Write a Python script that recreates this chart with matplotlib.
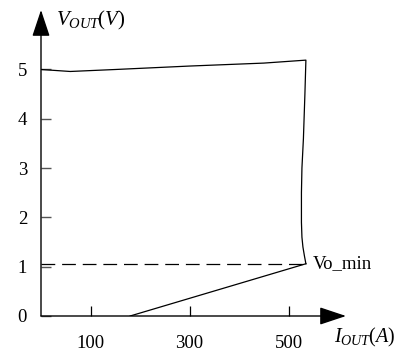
import matplotlib.pyplot as plt

plt.rcParams['font.family'] = 'Liberation Serif'
plt.rcParams['mathtext.fontset'] = 'custom'
plt.rcParams['mathtext.rm'] = 'Liberation Serif'
plt.rcParams['mathtext.it'] = 'Liberation Serif:italic'

# upper branch: top line then right edge down to Vo_min
curve_x = [0, 15, 59, 150, 300, 450, 535, 533, 530, 527, 526, 526, 527, 529, 532, 535]
curve_y = [5.0, 4.99, 4.96, 5.0, 5.07, 5.13, 5.19, 4.5, 3.6, 3.0, 2.5, 1.9, 1.6, 1.4, 1.22, 1.06]
# lower branch: from Vo_min back to zero voltage
low_x = [535, 180]
low_y = [1.06, 0]
vo_min = 1.06

xticks = [100, 300, 500]
yticks = [0, 1, 2, 3, 4, 5]

fig = plt.figure(figsize=(4.15, 3.62), dpi=100)
ax = fig.add_axes([41 / 415, 46 / 362, 305 / 415, 306 / 362])
ax.set_xlim(0, 616)
ax.set_ylim(0, 306 / 49.3)

ax.plot(curve_x, curve_y, color='black', lw=0.9)
ax.plot(low_x, low_y, color='black', lw=0.9)
ax.plot([0, curve_x[-1]], [vo_min, vo_min], color='black', lw=0.9, dashes=(11, 5.5))
ax.text(548, vo_min, 'Vo_min', fontsize=13.5, va='center', ha='left')

for s in ax.spines.values():
    s.set_visible(False)

# axes with arrow heads
arrow = dict(arrowstyle='-|>,head_length=0.75,head_width=0.25', color='black', lw=1,
             mutation_scale=22, shrinkA=0, shrinkB=0)
ax.annotate('', xy=(616, 0), xytext=(0, 0), arrowprops=arrow, annotation_clip=False)
ax.annotate('', xy=(0, 306 / 49.3), xytext=(0, 0), arrowprops=arrow, annotation_clip=False)

ax.set_xticks(xticks)
ax.set_xticklabels([str(v) for v in xticks])
ax.set_yticks(yticks)
ax.set_yticklabels([str(v) for v in yticks])
ax.tick_params(axis='x', direction='in', length=7, width=0.9, pad=14, labelsize=13.5)
ax.tick_params(axis='y', direction='in', length=7, width=1, pad=10, labelsize=13.5,
               color='#555555')

ax.text(30, 6.0, r'$V_{OUT}\mathrm{(}V\mathrm{)}$', fontsize=15, va='center', ha='left')
ax.text(592, -0.43, r'$I_{OUT}\mathrm{(}A\mathrm{)}$', fontsize=14.5, va='center', ha='left',
        clip_on=False)

fig.savefig('out.png', dpi=100)
